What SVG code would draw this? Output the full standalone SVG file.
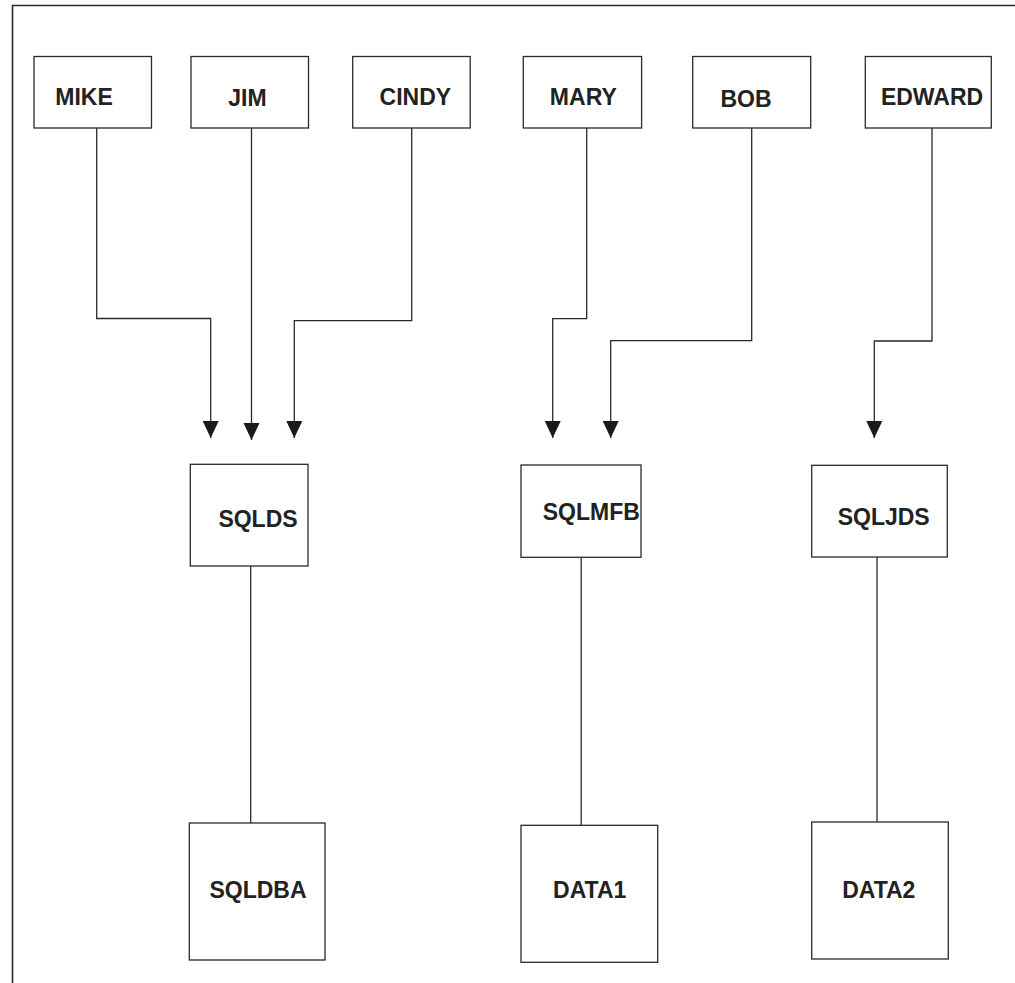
<svg xmlns="http://www.w3.org/2000/svg" width="1015" height="983" viewBox="0 0 1015 983">
<style>
.box{fill:#fff;stroke:#2a2a2a;stroke-width:1.3}
.lbl{font-family:"Liberation Sans",Arial,sans-serif;font-weight:bold;font-size:23px;fill:#222;text-anchor:middle}
.wire{fill:none;stroke:#2a2a2a;stroke-width:1.3}
.frame{fill:none;stroke:#2a2a2a;stroke-width:1.6}
</style>
<defs>
<marker id="arr" markerUnits="userSpaceOnUse" markerWidth="18" markerHeight="18" viewBox="0 0 18 18" refX="17" refY="9" orient="auto">
<path d="M0,1 L17,9 L0,17 Z" fill="#1a1a1a"/>
</marker>
</defs>
<rect width="1015" height="983" fill="#fff"/>
<path class="frame" d="M12.5,983 V5.5 H1015"/>
<g id="connectors">
<path class="wire" marker-end="url(#arr)" d="M96.7,128 V318.5 H210.7 V438"/>
<path class="wire" marker-end="url(#arr)" d="M251.5,128 V440"/>
<path class="wire" marker-end="url(#arr)" d="M411.7,128 V320.7 H294.3 V438"/>
<path class="wire" marker-end="url(#arr)" d="M586.7,128 V318.7 H552.7 V438"/>
<path class="wire" marker-end="url(#arr)" d="M751.7,128 V340.7 H610.7 V438"/>
<path class="wire" marker-end="url(#arr)" d="M932,128 V341 H874.3 V438"/>
<path class="wire" d="M250.7,566 V823"/>
<path class="wire" d="M581.2,557.3 V825.3"/>
<path class="wire" d="M877,557 V822"/>
</g>
<g id="MIKE"><rect class="box" x="34" y="56.5" width="117.5" height="71.5"/><text class="lbl" x="84" y="105">MIKE</text></g>
<g id="JIM"><rect class="box" x="191" y="56.5" width="117.5" height="71.5"/><text class="lbl" x="247.5" y="106">JIM</text></g>
<g id="CINDY"><rect class="box" x="352.7" y="56.5" width="117.5" height="71.5"/><text class="lbl" x="415.3" y="105">CINDY</text></g>
<g id="MARY"><rect class="box" x="523.3" y="56.5" width="118.3" height="71.5"/><text class="lbl" x="583.3" y="105">MARY</text></g>
<g id="BOB"><rect class="box" x="692.7" y="56.5" width="118" height="71.5"/><text class="lbl" x="746" y="107">BOB</text></g>
<g id="EDWARD"><rect class="box" x="865.3" y="56.5" width="126" height="71.5"/><text class="lbl" x="932" y="105">EDWARD</text></g>
<g id="SQLDS"><rect class="box" x="190.3" y="464.3" width="117.7" height="101.7"/><text class="lbl" x="258" y="526.7">SQLDS</text></g>
<g id="SQLMFB"><rect class="box" x="521" y="465" width="120" height="92.3"/><text class="lbl" x="591.3" y="520">SQLMFB</text></g>
<g id="SQLJDS"><rect class="box" x="811.7" y="465.3" width="135.6" height="91.7"/><text class="lbl" x="883.7" y="525">SQLJDS</text></g>
<g id="SQLDBA"><rect class="box" x="189.3" y="823" width="135.7" height="137"/><text class="lbl" x="258" y="897.7">SQLDBA</text></g>
<g id="DATA1"><rect class="box" x="521" y="825.3" width="136.7" height="137"/><text class="lbl" x="589.7" y="898.3">DATA1</text></g>
<g id="DATA2"><rect class="box" x="811.7" y="822" width="136.6" height="137"/><text class="lbl" x="878.8" y="898">DATA2</text></g>
</svg>
